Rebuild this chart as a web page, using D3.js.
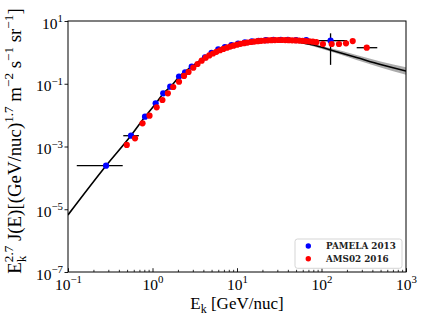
<!DOCTYPE html>
<html><head><meta charset="utf-8">
<script src="https://cdn.jsdelivr.net/npm/d3@7"></script>
<style>body{margin:0;background:#fff}svg{display:block}</style>
</head><body>
<svg id="c" width="424" height="324"></svg>
<script>
// ---------- data ----------
const pamelaE = [0.282, 0.557, 0.815, 1.09, 1.34, 1.62, 2.06, 2.43, 2.91, 4.18, 5.0, 6.0, 7.2, 8.6, 10.3, 12.4, 15, 18, 22, 27, 33, 40, 50, 66, 128];
const pamelaV = [2.44e-4, 2.21e-3, 8.9e-3, 0.0238, 0.0497, 0.0805, 0.170, 0.232, 0.349, 0.697, 0.97, 1.24, 1.47, 1.70, 1.90, 2.07, 2.24, 2.35, 2.44, 2.49, 2.51, 2.50, 2.46, 2.45, 2.36];
const pamelaErrE = [0.282, 0.557, 128];
const pamelaErrV = [2.44e-4, 2.21e-3, 2.36];
const pamelaErrXLo = [0.127, 0.451, 84];
const pamelaErrXHi = [0.444, 0.69, 200];
const pamelaErrYLo = [2.1e-4, 1.9e-3, 0.40];
const pamelaErrYHi = [2.85e-4, 2.6e-3, 4.05];

const amsE = [0.496, 0.621, 0.762, 0.922, 1.12, 1.31, 1.52, 1.76, 2.06, 2.36, 2.67, 3.04, 3.41, 3.82, 4.26, 4.7, 5.2, 5.7, 6.3, 6.9, 7.6, 8.3, 9.1, 10.0, 11.0, 12.1, 13.3, 14.6, 16.0, 17.6, 19.3, 21.2, 23.3, 25.6, 28.1, 30.9, 34.0, 37.3, 41.0, 45, 49.5, 54.4, 59.7, 65.6, 72, 79, 87, 104, 132, 161, 195, 234, 343];
const amsV = [1.12e-3, 1.82e-3, 5.48e-3, 9.6e-3, 0.0177, 0.0303, 0.0497, 0.0787, 0.116, 0.177, 0.237, 0.325, 0.426, 0.543, 0.676, 0.80, 0.92, 1.04, 1.17, 1.29, 1.41, 1.53, 1.64, 1.76, 1.87, 1.97, 2.06, 2.14, 2.21, 2.27, 2.33, 2.38, 2.42, 2.45, 2.47, 2.48, 2.48, 2.47, 2.45, 2.43, 2.40, 2.37, 2.34, 2.30, 2.25, 2.20, 2.12, 1.85, 1.85, 1.85, 1.95, 2.30, 1.41];
const amsErrE = [343];
const amsErrV = [1.41];
const amsErrXLo = [261];
const amsErrXHi = [457];
const amsErrYLo = [1.3];
const amsErrYHi = [1.53];

const modelE = [0.1, 0.282, 0.557, 0.82, 1.1, 1.35, 1.65, 2.1, 2.9, 4.2, 6, 10, 15, 20, 30, 42, 60, 80, 125, 260, 500, 1000];
const modelV = [6.6e-6, 2.44e-4, 2.25e-3, 9.0e-3, 0.024, 0.05, 0.083, 0.175, 0.35, 0.70, 1.20, 1.85, 2.2, 2.38, 2.45, 2.25, 2.0, 1.72, 1.22, 0.69, 0.41, 0.255];
const bandE = [35, 60, 125, 260, 500, 1000];
const bandLo = [2.40, 1.9, 1.09, 0.57, 0.33, 0.195];
const bandHi = [2.40, 2.1, 1.37, 0.83, 0.51, 0.334];

const xMajor = [0.1, 1, 10, 100, 1000];
const xMajorExp = ["\u22121", "0", "1", "2", "3"];
const yMajor = [10, 0.1, 1e-3, 1e-5, 1e-7];
const yMajorExp = ["1", "\u22121", "\u22123", "\u22125", "\u22127"];
const seriesNames = ["PAMELA 2013", "AMS02 2016"];
const seriesColors = ["#0000ff", "#ff0000"];

// ---------- layout ----------
const L = 68, R = 406, T = 21, B = 272;
const svg = d3.select("#c");
const x = d3.scaleLog().domain([0.1, 1000]).range([L, R]);
const y = d3.scaleLog().domain([1e-7, 10]).range([B, T]);
const serif = "'Liberation Serif', 'DejaVu Serif', serif";

svg.append("clipPath").attr("id", "clip").append("rect")
  .attr("x", L).attr("y", T).attr("width", R - L).attr("height", B - T);
const plot = svg.append("g").attr("clip-path", "url(#clip)");

// band
const bandData = bandE.map((e, i) => ({e, lo: bandLo[i], hi: bandHi[i]}));
plot.append("path").datum(bandData)
  .attr("d", d3.area().x(d => x(d.e)).y0(d => y(d.lo)).y1(d => y(d.hi)).curve(d3.curveMonotoneX))
  .attr("fill", "#7f7f7f").attr("opacity", 0.65);
// model line
const modelData = modelE.map((e, i) => ({e, v: modelV[i]}));
plot.append("path").datum(modelData)
  .attr("d", d3.line().x(d => x(d.e)).y(d => y(d.v)).curve(d3.curveMonotoneX))
  .attr("fill", "none").attr("stroke", "#000").attr("stroke-width", 1.6);

function errbars(E, V, xl, xh, yl, yh) {
  const g = plot.append("g").attr("stroke", "#000").attr("stroke-width", 1.3);
  E.forEach((e, i) => {
    g.append("line").attr("x1", x(xl[i])).attr("x2", x(xh[i])).attr("y1", y(V[i])).attr("y2", y(V[i]));
    g.append("line").attr("x1", x(e)).attr("x2", x(e)).attr("y1", y(yl[i])).attr("y2", y(yh[i]));
  });
}
function dots(E, V, col) {
  plot.append("g").selectAll("circle").data(E.map((e, i) => ({e, v: V[i]}))).join("circle")
    .attr("cx", d => x(d.e)).attr("cy", d => y(d.v)).attr("r", 3.1).attr("fill", col);
}
errbars(pamelaErrE, pamelaErrV, pamelaErrXLo, pamelaErrXHi, pamelaErrYLo, pamelaErrYHi);
dots(pamelaE, pamelaV, seriesColors[0]);
errbars(amsErrE, amsErrV, amsErrXLo, amsErrXHi, amsErrYLo, amsErrYHi);
dots(amsE, amsV, seriesColors[1]);

// ---------- axes ----------
function supLabel(sel, exp, fs) {
  sel.text(null);
  sel.append("tspan").text("10");
  sel.append("tspan").text(exp).attr("font-size", fs * 0.7).attr("dy", -fs * 0.42);
}
const minor = [];
[0.1, 1, 10, 100].forEach(d => { for (let k = 2; k <= 9; k++) minor.push(d * k); });
const gxm = svg.append("g").attr("transform", `translate(0,${B})`)
  .call(d3.axisBottom(x).tickValues(minor).tickSize(-2.2).tickFormat(""));
gxm.select(".domain").remove();
gxm.selectAll("line").attr("stroke-width", 0.8);
const gx = svg.append("g").attr("transform", `translate(0,${B})`)
  .call(d3.axisBottom(x).tickValues(xMajor).tickSize(-3.8));
gx.select(".domain").remove();
gx.selectAll("line").attr("stroke-width", 0.9);
gx.selectAll("text").attr("font-family", serif).attr("font-size", 15.5).attr("fill", "#000")
  .attr("y", 18).attr("dy", 0)
  .each(function (d, i) { supLabel(d3.select(this), xMajorExp[i], 15.5); });

const gy = svg.append("g").attr("transform", `translate(${L},0)`)
  .call(d3.axisLeft(y).tickValues(yMajor).tickSize(3.5));
gy.select(".domain").remove();
gy.selectAll("line").attr("stroke-width", 0.9);
gy.selectAll("text").attr("font-family", serif).attr("font-size", 15.5).attr("fill", "#000")
  .attr("x", -5).attr("dy", 7)
  .each(function (d, i) { supLabel(d3.select(this), yMajorExp[i], 15.5); });

svg.append("rect").attr("x", L).attr("y", T).attr("width", R - L).attr("height", B - T)
  .attr("fill", "none").attr("stroke", "#000").attr("stroke-width", 1);

// rich text helper
function rich(t, segs, fs) {
  let cur = 0;
  segs.forEach(s => {
    const ts = t.append("tspan").text(s.t);
    const target = s.s === "sup" ? -0.42 * fs : s.s === "sub" ? 0.25 * fs : 0;
    ts.attr("dy", target - cur); cur = target;
    if (s.s) ts.attr("font-size", 0.7 * fs);
    if (s.dx) ts.attr("dx", s.dx * fs);
  });
}
// x label
const xl = svg.append("text").attr("x", 237).attr("y", 308.5).attr("text-anchor", "middle")
  .attr("font-family", serif).attr("font-size", 17).attr("fill", "#000");
rich(xl, [{t: "E"}, {t: "k", s: "sub"}, {t: " [GeV/nuc]"}], 17);

// y label
function makeYLabel(fs) {
  svg.selectAll(".ylab").remove();
  const t = svg.append("text").attr("class", "ylab")
    .attr("transform", `translate(21,141) rotate(-90)`).attr("text-anchor", "middle")
    .attr("font-family", serif).attr("font-size", fs).attr("fill", "#000");
  rich(t, [{t: "E"}, {t: "k", s: "sub"}, {t: "2.7", s: "sup", dx: -0.35},
    {t: " J(E)[(GeV/nuc)"}, {t: "1.7", s: "sup"}, {t: " m"}, {t: "\u22122", s: "sup"},
    {t: " s"}, {t: "\u22121", s: "sup"}, {t: " sr"}, {t: "\u22121", s: "sup"}, {t: "]"}], fs);
  return t;
}
let yt = makeYLabel(16);
const len = yt.node().getComputedTextLength();
yt = makeYLabel(16 * 272 / len);

// legend
const lg = svg.append("g");
lg.append("rect").attr("x", 295).attr("y", 239).attr("width", 107).attr("height", 29.3)
  .attr("rx", 2.5).attr("fill", "#fff").attr("fill-opacity", 0.8)
  .attr("stroke", "#d0d0d0").attr("stroke-width", 0.9);
seriesNames.forEach((n, i) => {
  const yy = 246 + i * 12.7;
  lg.append("circle").attr("cx", 308.3).attr("cy", yy).attr("r", 2.7).attr("fill", seriesColors[i]);
  lg.append("text").attr("x", 326).attr("y", yy + 3.2).attr("font-family", "'DejaVu Serif', serif")
    .attr("font-weight", "bold").attr("font-size", 8.8).attr("fill", "#222").text(n);
});
</script>
</body></html>
